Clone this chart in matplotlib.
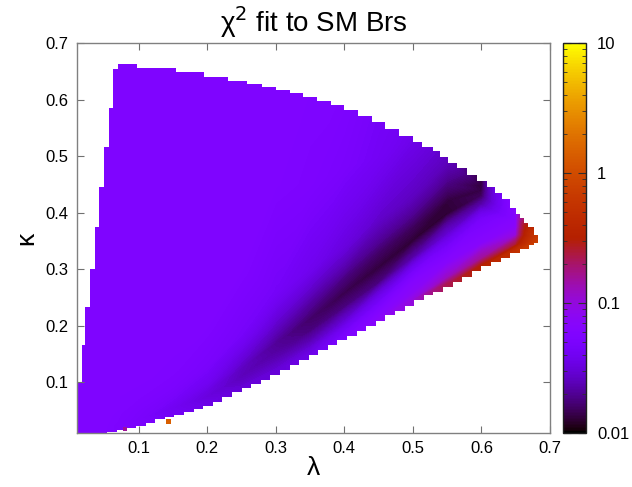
import numpy as np
import matplotlib
matplotlib.use("Agg")
import matplotlib.pyplot as plt
import matplotlib.tri as mtri
from matplotlib.colors import LogNorm
from matplotlib.patches import Polygon
from matplotlib.ticker import LogLocator, FixedLocator, NullFormatter

plt.rcParams['font.family'] = ['Liberation Sans', 'DejaVu Sans']

# ---------------- data ----------------
# upper edge of the allowed region: column start (lambda) and its top (kappa)
top_lam = [0.010, 0.017, 0.022, 0.029, 0.036, 0.042, 0.049, 0.057, 0.063, 0.070,
           0.098, 0.154, 0.195, 0.230, 0.258, 0.280, 0.300, 0.320, 0.340, 0.360,
           0.380, 0.400, 0.420, 0.440, 0.460, 0.480, 0.500, 0.514, 0.529, 0.540,
           0.551, 0.565, 0.579, 0.594, 0.608, 0.620, 0.630, 0.642, 0.650, 0.656,
           0.662, 0.668, 0.676]
top_kap = [0.100, 0.166, 0.233, 0.300, 0.374, 0.446, 0.516, 0.585, 0.654, 0.662,
           0.655, 0.648, 0.640, 0.633, 0.627, 0.622, 0.617, 0.611, 0.605, 0.598,
           0.590, 0.581, 0.571, 0.560, 0.548, 0.535, 0.524, 0.516, 0.509, 0.498,
           0.488, 0.478, 0.467, 0.455, 0.445, 0.434, 0.424, 0.408, 0.398, 0.390,
           0.382, 0.374, 0.360]
# lower edge of the allowed region: column start (lambda) and its bottom (kappa)
bot_lam = [0.010, 0.054, 0.068, 0.082, 0.096, 0.110, 0.124, 0.138, 0.152, 0.166,
           0.180, 0.194, 0.208, 0.222, 0.236, 0.250, 0.264, 0.278, 0.292, 0.306,
           0.320, 0.334, 0.348, 0.362, 0.376, 0.390, 0.404, 0.418, 0.432, 0.446,
           0.460, 0.474, 0.488, 0.502, 0.516, 0.530, 0.544, 0.558, 0.572, 0.586,
           0.600, 0.614, 0.628, 0.642, 0.656, 0.670, 0.676]
bot_kap = [0.000, 0.012, 0.016, 0.019, 0.023, 0.027, 0.034, 0.038, 0.042, 0.047,
           0.053, 0.058, 0.065, 0.073, 0.082, 0.090, 0.097, 0.104, 0.113, 0.122,
           0.131, 0.140, 0.148, 0.157, 0.166, 0.174, 0.182, 0.191, 0.200, 0.209,
           0.218, 0.226, 0.235, 0.245, 0.254, 0.260, 0.268, 0.277, 0.286, 0.296,
           0.305, 0.312, 0.320, 0.328, 0.335, 0.342, 0.347]
lam_tip = 0.683

# chi^2 read from the colours, on columns of lambda (10 samples per column,
# from just below the lower edge, across the valley, up to the upper edge)
col_lam = [0.00, 0.05, 0.10, 0.15, 0.20, 0.25, 0.30, 0.35, 0.40, 0.45,
           0.50, 0.55, 0.60, 0.65, 0.69]
col_kap = [
    [-0.02, 0.000, 0.020, 0.050, 0.100, 0.200, 0.300, 0.450, 0.600, 0.720],
    [-0.01, 0.005, 0.020, 0.040, 0.080, 0.150, 0.250, 0.400, 0.600, 0.720],
    [0.010, 0.024, 0.035, 0.050, 0.070, 0.100, 0.200, 0.400, 0.600, 0.720],
    [0.028, 0.042, 0.055, 0.070, 0.090, 0.120, 0.200, 0.400, 0.600, 0.720],
    [0.048, 0.062, 0.075, 0.085, 0.100, 0.130, 0.200, 0.400, 0.600, 0.720],
    [0.076, 0.090, 0.100, 0.110, 0.125, 0.145, 0.185, 0.300, 0.500, 0.720],
    [0.106, 0.120, 0.130, 0.140, 0.155, 0.170, 0.195, 0.260, 0.450, 0.720],
    [0.135, 0.149, 0.160, 0.172, 0.190, 0.212, 0.240, 0.300, 0.450, 0.700],
    [0.166, 0.180, 0.192, 0.207, 0.232, 0.258, 0.285, 0.340, 0.480, 0.650],
    [0.197, 0.211, 0.223, 0.240, 0.275, 0.303, 0.330, 0.390, 0.500, 0.620],
    [0.231, 0.245, 0.257, 0.275, 0.320, 0.350, 0.375, 0.430, 0.530, 0.580],
    [0.259, 0.273, 0.285, 0.310, 0.360, 0.397, 0.420, 0.450, 0.490, 0.530],
    [0.291, 0.305, 0.318, 0.345, 0.390, 0.415, 0.430, 0.440, 0.448, 0.480],
    [0.319, 0.333, 0.343, 0.360, 0.375, 0.385, 0.390, 0.395, 0.400, 0.430],
    [0.335, 0.343, 0.347, 0.350, 0.352, 0.354, 0.356, 0.358, 0.360, 0.370],
]
col_chi2 = [
    [0.056, 0.056, 0.056, 0.056, 0.056, 0.056, 0.056, 0.056, 0.056, 0.056],
    [0.055, 0.055, 0.055, 0.056, 0.056, 0.056, 0.056, 0.056, 0.056, 0.056],
    [0.050, 0.050, 0.048, 0.050, 0.053, 0.055, 0.056, 0.056, 0.056, 0.056],
    [0.042, 0.042, 0.040, 0.045, 0.050, 0.054, 0.056, 0.056, 0.056, 0.056],
    [0.035, 0.035, 0.032, 0.034, 0.040, 0.048, 0.055, 0.056, 0.056, 0.056],
    [0.030, 0.030, 0.027, 0.025, 0.026, 0.032, 0.045, 0.055, 0.056, 0.056],
    [0.030, 0.030, 0.027, 0.024, 0.021, 0.020, 0.026, 0.044, 0.055, 0.056],
    [0.035, 0.035, 0.030, 0.024, 0.018, 0.016, 0.021, 0.038, 0.052, 0.056],
    [0.050, 0.050, 0.042, 0.030, 0.018, 0.014, 0.018, 0.032, 0.048, 0.054],
    [0.070, 0.070, 0.060, 0.045, 0.018, 0.013, 0.016, 0.028, 0.042, 0.046],
    [0.100, 0.100, 0.075, 0.065, 0.022, 0.0125, 0.015, 0.026, 0.036, 0.040],
    [0.220, 0.220, 0.120, 0.068, 0.030, 0.0125, 0.013, 0.018, 0.025, 0.027],
    [0.320, 0.320, 0.160, 0.068, 0.045, 0.022, 0.015, 0.0135, 0.013, 0.013],
    [0.500, 0.500, 0.250, 0.100, 0.070, 0.065, 0.065, 0.065, 0.065, 0.065],
    [0.900, 0.900, 0.900, 0.850, 0.800, 0.750, 0.700, 0.600, 0.500, 0.400],
]

# isolated outlier cells
odd_lam = [0.080, 0.143]
odd_kap = [0.0175, 0.030]
odd_chi2 = [0.16, 1.4]

xticks = [0.1, 0.2, 0.3, 0.4, 0.5, 0.6, 0.7]
yticks = [0.1, 0.2, 0.3, 0.4, 0.5, 0.6, 0.7]
cb_ticks = [0.01, 0.1, 1, 10]
cb_labels = ['0.01', '0.1', '1', '10']

# ---------------- figure ----------------
fig = plt.figure(figsize=(6.32, 4.87), dpi=100)
ax = fig.add_axes([77/632, 1-433/487, 473/632, 390/487])
cax = fig.add_axes([563/632, 1-433/487, 23/632, 390/487])

cmap = plt.get_cmap('gnuplot')
norm = LogNorm(vmin=0.01, vmax=10)
levels = np.logspace(-2, 1, 241)

# structured triangulation of the sample columns
ncol = len(col_lam)
nrow = len(col_kap[0])
X = np.array([[col_lam[j]] * nrow for j in range(ncol)]).ravel()
Y = np.array(col_kap).ravel()
Z = np.array(col_chi2).ravel()
tris = []
for j in range(ncol - 1):
    for i in range(nrow - 1):
        a = j * nrow + i
        b = (j + 1) * nrow + i
        tris.append([a, b, b + 1])
        tris.append([a, b + 1, a + 1])
tri = mtri.Triangulation(X, Y, tris)
cs = ax.tricontourf(tri, Z, levels=levels, cmap=cmap, norm=norm,
                    antialiased=False, extend='both')


# staircase outline of the allowed region
def stairs(lams, kaps, end):
    pts = []
    for i in range(len(lams)):
        nxt = lams[i + 1] if i + 1 < len(lams) else end
        pts += [(lams[i], kaps[i]), (nxt, kaps[i])]
    return pts


verts = stairs(top_lam, top_kap, lam_tip) + stairs(bot_lam, bot_kap, lam_tip)[::-1]
clip = Polygon(verts, closed=True, transform=ax.transData, facecolor='none',
               edgecolor='none')
ax.add_patch(clip)
cs.set_clip_path(clip)

for lx, ky, cv in zip(odd_lam, odd_kap, odd_chi2):
    ax.bar(lx, 0.008, bottom=ky - 0.004, width=0.007, color=cmap(norm(cv)),
           align='center', linewidth=0, zorder=3)

ax.set_xlim(0.01, 0.7)
ax.set_ylim(0.01, 0.7)
ax.xaxis.set_major_locator(FixedLocator(xticks))
ax.yaxis.set_major_locator(FixedLocator(yticks))
ax.set_xticklabels([f'{v:.1f}' for v in xticks])
ax.set_yticklabels([f'{v:.1f}' for v in yticks])
ax.tick_params(direction='in', length=5, width=0.8, color='#707070',
               top=True, right=True, labelsize=12, pad=6)
for sp in ax.spines.values():
    sp.set_color('#808080')
    sp.set_linewidth(1.0)

ax.set_xlabel('λ', fontsize=19, labelpad=0)
ax.set_ylabel('κ', fontsize=19, labelpad=5, rotation=90)
ax.set_title('χ$^2$ fit to SM Brs', fontsize=20, pad=8)

cb = fig.colorbar(plt.cm.ScalarMappable(norm=norm, cmap=cmap), cax=cax)
cb.set_ticks(cb_ticks)
cb.set_ticklabels(cb_labels)
cax.yaxis.set_minor_locator(LogLocator(base=10, subs=np.arange(2, 10)))
cax.yaxis.set_minor_formatter(NullFormatter())
cax.tick_params(which='both', direction='in', left=True, right=True,
                color='#303030', labelsize=12, pad=8)
cax.tick_params(which='major', length=6, width=0.8)
cax.tick_params(which='minor', length=3, width=0.6)
cb.outline.set_linewidth(1.0)
cb.outline.set_edgecolor('#202020')

fig.savefig('out.png', dpi=100)
